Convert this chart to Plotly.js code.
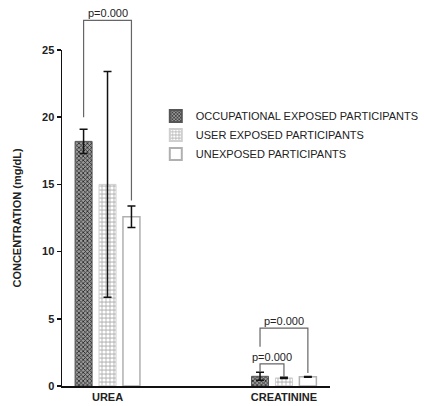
<!DOCTYPE html>
<html><head><meta charset="utf-8">
<script src="https://cdn.plot.ly/plotly-3.0.1.min.js"></script>
<style>html,body{margin:0;padding:0;background:#fff;}#chart{width:424px;height:406px;}</style>
</head><body><div id="chart"></div>
<script>
const categories = ['UREA', 'CREATININE'];
const seriesNames = ['OCCUPATIONAL EXPOSED PARTICIPANTS', 'USER EXPOSED PARTICIPANTS', 'UNEXPOSED PARTICIPANTS'];
const occupational = [18.2, 0.72];
const occupationalErr = [0.9, 0.3];
const userExposed = [15.0, 0.6];
const userExposedErr = [8.4, 0.05];
const unexposed = [12.6, 0.68];
const unexposedErr = [0.8, 0.03];
const pLabels = ['p=0.000', 'p=0.000', 'p=0.000'];

const yMax = 25;
const xMin = -0.258, xMax = 1.261;
const slot = 0.1356;

const font = 'Liberation Sans, Arial, sans-serif';
const means = [occupational, userExposed, unexposed];
const errs = [occupationalErr, userExposedErr, unexposedErr];

const styles = [
  {color: '#8a8a8a', pattern: {shape: 'x', fgcolor: '#222', bgcolor: '#9a9a9a', size: 3, solidity: 0.45}, line: {color: '#555', width: 1}},
  {color: '#d0d0d0', pattern: {shape: '.', fgcolor: '#ffffff', bgcolor: '#c4c4c4', size: 4, solidity: 0.5}, line: {color: '#cfcfcf', width: 1}},
  {color: '#ffffff', line: {color: '#b0b0b0', width: 1.5}}
];

const traces = means.map((m, i) => ({
  type: 'bar', name: seriesNames[i], x: categories, y: m,
  marker: styles[i],
  error_y: {type: 'data', array: errs[i], visible: true, color: '#111', thickness: 1.5, width: 4}
}));

function px(catIdx, seriesIdx) { return (catIdx + (seriesIdx - 1) * slot - xMin) / (xMax - xMin); }
function py(v) { return v / yMax; }
function errTop(s, c) { return means[s][c] + errs[s][c]; }

const shapes = [];
const annotations = [];
function bracket(c, s1, s2, yLeft, yTop, yRight, label) {
  const x1 = px(c, s1), x2 = px(c, s2);
  shapes.push({type: 'path', xref: 'paper', yref: 'paper',
    path: `M ${x1} ${py(yLeft)} L ${x1} ${py(yTop)} L ${x2} ${py(yTop)} L ${x2} ${py(yRight)}`,
    line: {color: '#666', width: 1.2}});
  annotations.push({xref: 'paper', yref: 'paper', x: (x1 + x2) / 2, y: py(yTop), yanchor: 'bottom', xanchor: 'center',
    text: label, showarrow: false, font: {family: font, size: 11, color: '#222'}, yshift: -1});
}
bracket(0, 0, 2, errTop(0, 0) + 0.9, 27.2, errTop(2, 0) + 0.4, pLabels[0]);
bracket(1, 0, 1, errTop(0, 1) + 0.02, 1.64, errTop(1, 1) + 0.02, pLabels[1]);
bracket(1, 0, 2, errTop(0, 1) + 1.9, 4.3, errTop(2, 1) + 0.25, pLabels[2]);

const layout = {
  width: 424, height: 406,
  margin: {l: 62, r: 94, t: 50, b: 20, autoexpand: false},
  paper_bgcolor: '#fff', plot_bgcolor: '#fff',
  barmode: 'group', bargap: 0.593, bargroupgap: 0.29,
  showlegend: true,
  legend: {x: 0.35, y: 0.847, xanchor: 'left', yanchor: 'top', font: {family: font, size: 11, color: '#222'}, tracegroupgap: 0, itemsizing: 'constant', bgcolor: 'rgba(0,0,0,0)'},
  xaxis: {type: 'category', range: [xMin, xMax], showline: true, linecolor: '#111', linewidth: 1.5, ticks: '', showgrid: false, zeroline: false,
    tickfont: {family: font, size: 11, color: '#222', weight: 'bold'}, automargin: false, ticklabelstandoff: 0},
  yaxis: {range: [0, yMax], tickvals: [0, 5, 10, 15, 20, 25], showline: true, linecolor: '#111', linewidth: 1.5, ticks: 'outside', ticklen: 4, tickwidth: 1.5, tickcolor: '#111',
    showgrid: false, zeroline: false, tickfont: {family: font, size: 11, color: '#222', weight: 'bold'}, automargin: false,
    title: {text: 'CONCENTRATION (mg/dL)', font: {family: font, size: 11, color: '#222', weight: 'bold'}, standoff: 18}},
  shapes: shapes,
  annotations: annotations
};

Plotly.newPlot('chart', traces, layout, {displayModeBar: false, staticPlot: true});
</script></body></html>
